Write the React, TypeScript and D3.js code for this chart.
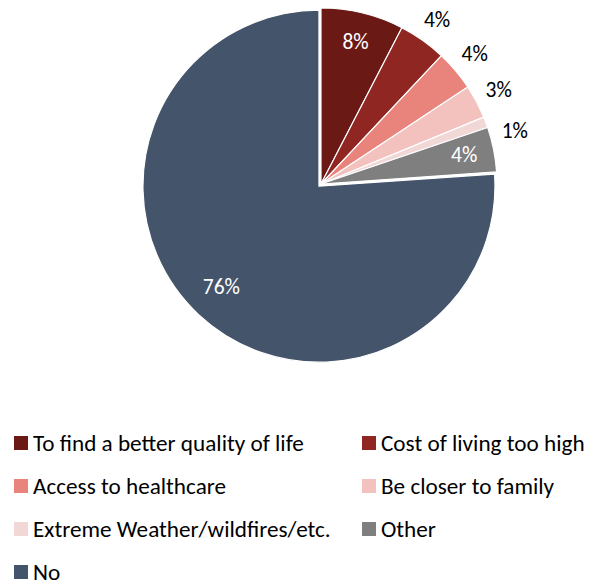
import React from "react";
import * as d3 from "d3";

const categories = [
  "To find a better quality of life",
  "Cost of living too high",
  "Access to healthcare",
  "Be closer to family",
  "Extreme Weather/wildfires/etc.",
  "Other",
  "No",
];
const values = [7.6, 4.4, 3.7, 3.1, 1.0, 4.1, 76.1];
const valueLabels = ["8%", "4%", "4%", "3%", "1%", "4%", "76%"];
const colors = ["#6A1915", "#8F2621", "#E8847C", "#F3C1BE", "#F2D7D7", "#7F7F7F", "#44546A"];

const W = 594;
const H = 584;
const FONT = "Carlito, Calibri, Lato, sans-serif";

export default function App() {
  const cx = 321;
  const cy = 184;
  const r = 176;
  const insideIdx = new Set([0, 5, 6]);
  const insideColor = "#FFFFFF";

  const pie = d3.pie<number>().sort(null).value((d) => d).startAngle(0).endAngle(2 * Math.PI);
  const arcs = pie(values);
  const arcGen = d3.arc<d3.PieArcDatum<number>>().innerRadius(0).outerRadius(r);
  const inLabel = d3.arc<d3.PieArcDatum<number>>().innerRadius(146).outerRadius(146);
  const outR = 201;

  let prevY = -Infinity;
  const labelPos = arcs.map((a, i) => {
    if (insideIdx.has(i)) {
      const [x, y] = inLabel.centroid(a);
      return { x, y, inside: true };
    }
    const mid = (a.startAngle + a.endAngle) / 2;
    let y = -outR * Math.cos(mid);
    if (y - prevY < 30) y = prevY + 41;
    const x = Math.sqrt(Math.max(0, outR * outR - y * y));
    prevY = y;
    return { x, y, inside: false };
  });

  const explode = (i: number, a: d3.PieArcDatum<number>) => {
    if (i !== 6) return [0, 0];
    const mid = (a.startAngle + a.endAngle) / 2;
    return [3 * Math.sin(mid), -3 * Math.cos(mid)];
  };

  const legendCols = [14, 362];
  const legendY0 = 443;
  const legendDy = 43;

  return (
    <svg
      width={W}
      height={H}
      style={{ position: "absolute", left: 0, top: 0, background: "#fff" }}
      fontFamily={FONT}
    >
      <g transform={`translate(${cx},${cy})`}>
        {arcs.map((a, i) => {
          const [dx, dy] = explode(i, a);
          return (
            <path
              key={i}
              d={arcGen(a) || ""}
              transform={`translate(${dx},${dy})`}
              fill={colors[i]}
              stroke="#FFFFFF"
              strokeWidth={1.2}
              strokeLinejoin="round"
            />
          );
        })}
        {labelPos.map((p, i) => (
          <text
            key={i}
            x={p.x}
            y={p.y - (i === 6 ? 4 : 0)}
            textAnchor="middle"
            dominantBaseline="central"
            fontSize={21.5}
            fill={p.inside ? insideColor : "#000000"}
          >
            {valueLabels[i]}
          </text>
        ))}
      </g>
      <g>
        {categories.map((c, i) => {
          const col = i % 2;
          const row = Math.floor(i / 2);
          const x = legendCols[col];
          const y = legendY0 + row * legendDy;
          return (
            <g key={c} transform={`translate(${x},${y})`}>
              <rect x={0} y={-7} width={14} height={14} fill={colors[i]} />
              <text x={19} y={7.5} fontSize={23.2} fill="#000000">
                {c}
              </text>
            </g>
          );
        })}
      </g>
    </svg>
  );
}
